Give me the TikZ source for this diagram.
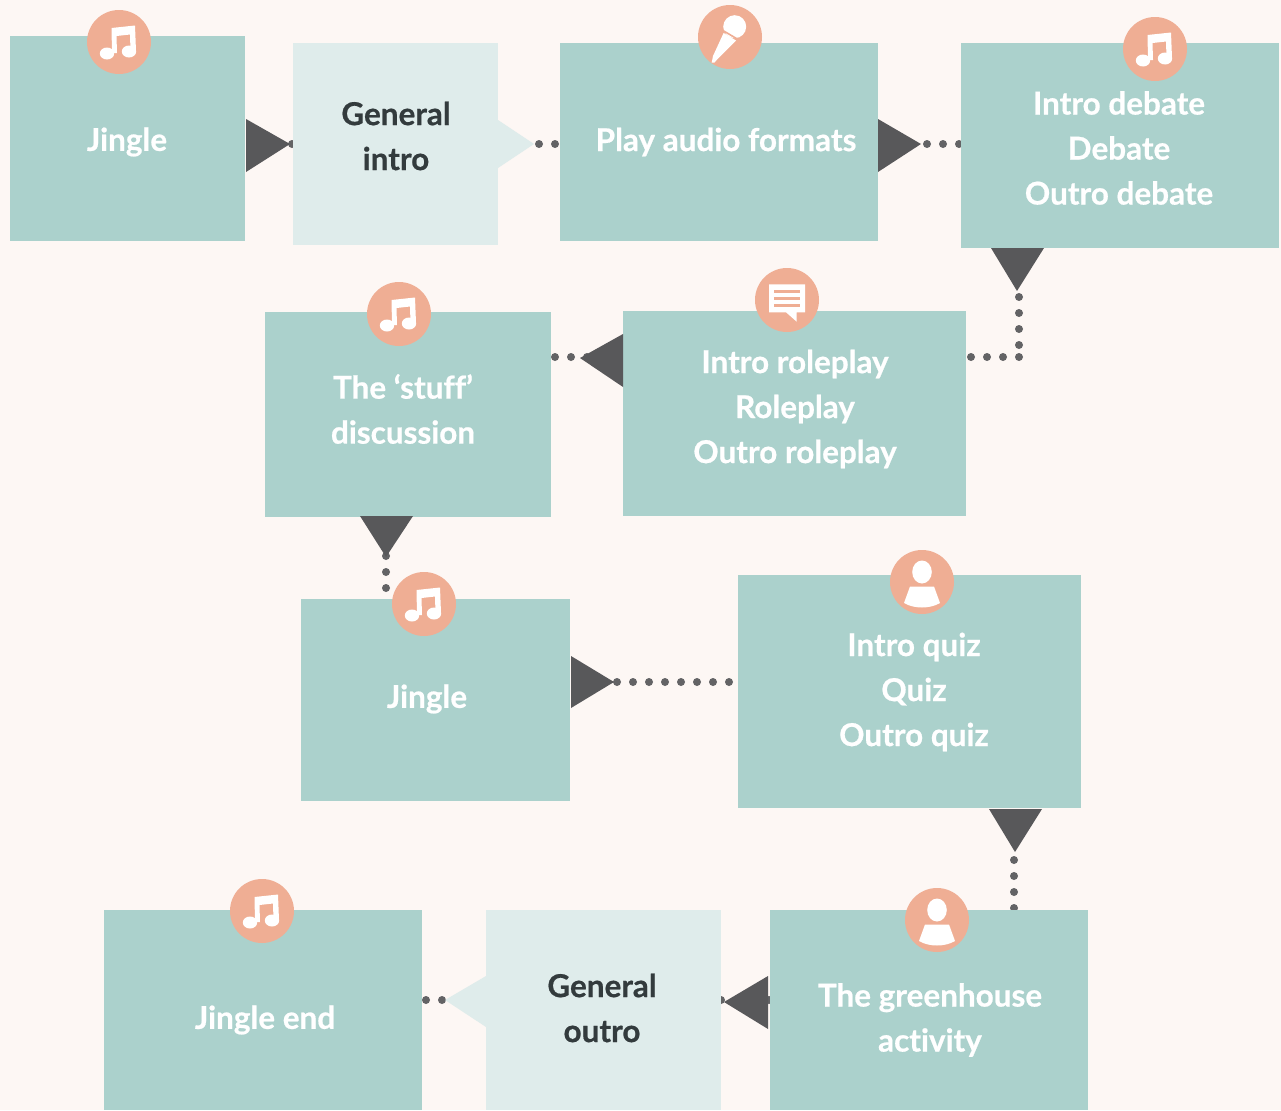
\documentclass[tikz,border=0pt]{standalone}
\usepackage{fontspec}
\setmainfont{Lato}[BoldFeatures={FakeBold=0.6},Ligatures=NoCommon]
\definecolor{bgc}{HTML}{FDF7F4}
\definecolor{boxc}{HTML}{ABD1CC}
\definecolor{lightc}{HTML}{DFECEB}
\definecolor{iconc}{HTML}{EFAE94}
\definecolor{tric}{HTML}{58585A}
\definecolor{dotc}{HTML}{636365}
\definecolor{darkc}{HTML}{333B3D}
\tikzset{
  panel/.style={fill=boxc,draw=none,inner sep=0pt,outer sep=0pt},
  lightpanel/.style={fill=lightc,draw=none,inner sep=0pt,outer sep=0pt},
  lbl/.style={text=white,font=\fontsize{23.6}{33.75}\selectfont\bfseries,align=center,inner sep=0pt},
  darklbl/.style={lbl,text=darkc},
  iconbg/.style={circle,fill=iconc,draw=none,minimum size=48pt,inner sep=0pt,outer sep=0pt},
  dotline/.style={draw=dotc,line width=6pt,line cap=round,dash pattern=on 0pt off 12pt},
  arrowtri/.style={fill=tric,draw=none}
}
\newcommand{\panelbox}[6][panel]{%
  \node[#1,anchor=north west,minimum width={(#5-#3)*0.75pt},minimum height={(#6-#4)*0.75pt}] (#2) at (#3,#4) {};}
\newcommand{\musicicon}[3]{%
  \node[iconbg] (#1) at (#2,#3) {};
  \begin{scope}[shift={(#2,#3)}]
    \fill[white] (-7.5,-14) -- (16,-16.5) -- (17,9) -- (11.5,9) -- (11,-7.5) -- (-2.5,-6) -- (-2,11) -- (-7,11) -- cycle;
    \fill[white] (-12,11.5) ellipse [x radius=7.2,y radius=6];
    \fill[white] (10,9.5) ellipse [x radius=7.2,y radius=6];
  \end{scope}}
\newcommand{\personicon}[3]{%
  \node[iconbg] (#1) at (#2,#3) {};
  \begin{scope}[shift={(#2,#3)}]
    \fill[white] (0,-10) ellipse [x radius=9.8,y radius=11.5];
    \fill[white] (-12,4.5) -- (12,4.5) -- (18,21) .. controls (8,27) and (-8,27) .. (-18,21) -- cycle;
  \end{scope}}
\begin{document}
\begin{tikzpicture}[x=0.75pt,y=-0.75pt]
\fill[bgc] (0,0) rectangle (1281,1110);
\useasboundingbox (0,0) rectangle (1281,1110);
% free ends and arrow tips
\coordinate (t1) at (290,144);
\coordinate (t2) at (921,144);
\coordinate (t3) at (1017,291);
\coordinate (t4) at (580,358);
\coordinate (t5) at (386,557);
\coordinate (t6) at (614,682);
\coordinate (t7) at (1015,852);
\coordinate (t8) at (724,1002);
\coordinate (c1) at (539,144);
\coordinate (c2) at (927,144);
\coordinate (c3a) at (1019,297);
\coordinate (c3b) at (1019,346);
\coordinate (c3c) at (1019,357);
\coordinate (c3d) at (970,357);
\coordinate (c4) at (555,357);
\coordinate (c5a) at (386,556);
\coordinate (c5b) at (386,589);
\coordinate (c6) at (617,682);
\coordinate (c7a) at (1014,860);
\coordinate (c7b) at (1014,910);
\coordinate (c8a) at (769,1000);
\coordinate (c8b) at (720,1000);
\coordinate (c9a) at (442,1000);
\coordinate (c9b) at (425,1000);
\coordinate (c1b) at (292,144);
\coordinate (c1c) at (284,144);
\coordinate (c1d) at (560,144);
\coordinate (c2b) at (961,144);
\coordinate (c4b) at (591,357);
\coordinate (c6b) at (738,682);
% connectors
\draw[dotline] (c1b) -- (c1c);
\draw[dotline] (c1) -- (c1d);
\draw[dotline] (c2) -- (c2b);
\draw[dotline] (c3a) -- (c3b);
\draw[dotline] (c3c) -- (c3d);
\draw[dotline] (c4) -- (c4b);
\draw[dotline] (c5a) -- (c5b);
\draw[dotline] (c6) -- (c6b);
\draw[dotline] (c7a) -- (c7b);
\draw[dotline] (c8a) -- (c8b);
\draw[dotline] (c9a) -- (c9b);
% panels
\panelbox{jingleA}{10}{36}{245}{241}
\panelbox[lightpanel]{intro}{293}{43}{498}{245}
\fill[lightc] (498,120) -- (534,144) -- (498,168) -- cycle;
\panelbox{play}{560}{43}{878}{241}
\panelbox{debate}{961}{43}{1279}{248}
\panelbox{role}{623}{311}{966}{516}
\panelbox{stuff}{265}{312}{551}{517}
\panelbox{jingleB}{301}{599}{570}{801}
\panelbox{quiz}{738}{575}{1081}{808}
\panelbox{green}{770}{910}{1088}{1110}
\panelbox[lightpanel]{outro}{486}{910}{721}{1110}
\fill[lightc] (486,976) -- (445,1000) -- (486,1027) -- cycle;
\panelbox{jingleC}{104}{910}{422}{1110}
% arrow triangles
\fill[arrowtri] (246,119) -- (t1) -- (246,172) -- cycle;
\fill[arrowtri] (878,119) -- (t2) -- (878,172) -- cycle;
\fill[arrowtri] (991,248) -- (1044,248) -- (t3) -- cycle;
\fill[arrowtri] (623,334) -- (t4) -- (623,387) -- cycle;
\fill[arrowtri] (360,516) -- (413,516) -- (t5) -- cycle;
\fill[arrowtri] (571,656) -- (t6) -- (571,708) -- cycle;
\fill[arrowtri] (989,809) -- (1042,809) -- (t7) -- cycle;
\fill[arrowtri] (768,976) -- (t8) -- (768,1029) -- cycle;
% labels
\node[lbl] (tA) at (127,142) {Jingle};
\node[darklbl] (tB) at (396,136) {General\\intro};
\node[lbl] (tC) at (726,142) {Play audio formats};
\node[lbl] (tD) at (1119,148) {Intro debate\\Debate\\Outro debate};
\node[lbl] (tE) at (795,409) {Intro roleplay\\Roleplay\\Outro roleplay};
\node[lbl] (tF) at (403,409) {The ‘stuff’\\discussion};
\node[lbl] (tG) at (427,699) {Jingle};
\node[lbl] (tH) at (914,692) {Intro quiz\\Quiz\\Outro quiz};
\node[lbl] (tI) at (930,1020) {The greenhouse\\activity};
\node[darklbl] (tJ) at (602,1008) {General\\outro};
\node[lbl] (tK) at (265,1020) {Jingle end};
% icons
\musicicon{iA}{119}{42}
\musicicon{iB}{1155}{49}
\musicicon{iC}{399}{314}
\musicicon{iD}{424}{604}
\musicicon{iE}{262}{911}
\personicon{iF}{922}{582}
\personicon{iG}{937}{920}
\node[iconbg] (iH) at (730,37) {};
\fill[white] (734.7,26.7) circle [radius=11.5];
\fill[white] (723.6,33) -- (736,40.5) -- (717.3,59.3) -- (714.5,62.5) -- (711.7,62.7) -- (713,56) -- cycle;
\draw[iconc,line width=1.2pt] (722,30) -- (739,40);
\node[iconbg] (iI) at (787,300) {};
\fill[white] (769,284.3) -- (805,284.3) -- (805,312.3) -- (796.7,312.3) -- (796.7,321.7) -- (786,312.3) -- (769,312.3) -- cycle;
\fill[iconc] (774,290.2) rectangle (800,293.2);
\fill[iconc] (774,296.8) rectangle (800,299.8);
\fill[iconc] (774,303.5) rectangle (800,306.5);
\end{tikzpicture}
\end{document}
